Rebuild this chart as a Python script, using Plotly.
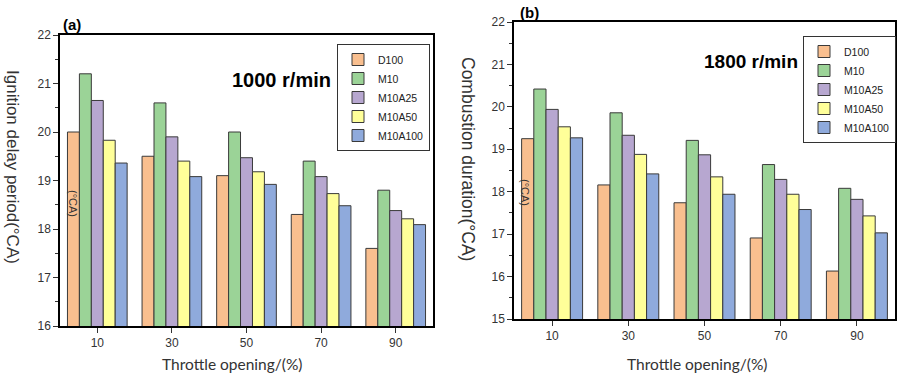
import plotly.graph_objects as go

categories = ["10", "30", "50", "70", "90"]
series_names = ["D100", "M10", "M10A25", "M10A50", "M10A100"]
colors = ["#F9BF8F", "#9BD397", "#B7A7D0", "#FFFF99", "#8FAADC"]

ignition_delay = {
    "D100":    [20.0, 19.5, 19.1, 18.3, 17.6],
    "M10":     [21.2, 20.6, 20.0, 19.4, 18.8],
    "M10A25":  [20.65, 19.9, 19.47, 19.08, 18.38],
    "M10A50":  [19.83, 19.4, 19.18, 18.73, 18.21],
    "M10A100": [19.36, 19.08, 18.92, 18.48, 18.09],
}
combustion_duration = {
    "D100":    [19.25, 18.16, 17.74, 16.91, 16.13],
    "M10":     [20.42, 19.86, 19.21, 18.64, 18.08],
    "M10A25":  [19.94, 19.33, 18.87, 18.29, 17.82],
    "M10A50":  [19.53, 18.88, 18.35, 17.94, 17.43],
    "M10A100": [19.27, 18.42, 17.94, 17.58, 17.03],
}

W, H = 897, 377
def fx(px): return px / W
def fy(py): return 1 - py / H

fig = go.Figure()
for name, col in zip(series_names, colors):
    fig.add_trace(go.Bar(x=categories, y=ignition_delay[name], name=name,
                         marker=dict(color=col, line=dict(color="#3a3a3a", width=1)),
                         xaxis="x", yaxis="y", legend="legend"))
for name, col in zip(series_names, colors):
    fig.add_trace(go.Bar(x=categories, y=combustion_duration[name], name=name,
                         marker=dict(color=col, line=dict(color="#3a3a3a", width=1)),
                         xaxis="x2", yaxis="y2", legend="legend2"))

tickfont = dict(family="Liberation Sans, Arial", size=12, color="#333")
common_x = dict(type="category", range=[-0.5, 4.5], showline=True, linecolor="black",
                linewidth=1.5, mirror=True, ticks="outside", ticklen=5, tickcolor="#333",
                tickfont=tickfont, showgrid=False, zeroline=False, automargin=False)
common_y = dict(showline=True, linecolor="black", linewidth=1.5, mirror=True,
                ticks="outside", ticklen=5, tickcolor="#333", dtick=1,
                tickfont=tickfont, showgrid=False, zeroline=False, automargin=False,
                minor=dict(dtick=0.5, ticks="outside", ticklen=3, tickcolor="#333"))

leg_common = dict(bgcolor="white", bordercolor="#333", borderwidth=1,
                  font=dict(family="Liberation Sans, Arial", size=10.5, color="#222"),
                  tracegroupgap=0, itemwidth=30, xanchor="right", yanchor="top")

fig.update_layout(
    width=W, height=H, margin=dict(l=0, r=0, t=0, b=0, autoexpand=False),
    paper_bgcolor="white", plot_bgcolor="white",
    barmode="group", bargap=0.2, bargroupgap=0,
    xaxis=dict(domain=[fx(60), fx(433)], anchor="y", **common_x),
    yaxis=dict(domain=[fy(326), fy(35)], anchor="x", range=[16, 22], **common_y),
    xaxis2=dict(domain=[fx(514), fx(895)], anchor="y2", **common_x),
    yaxis2=dict(domain=[fy(319), fy(22)], anchor="x2", range=[15, 22], **common_y),
    xaxis3=dict(domain=[fx(60), fx(433)], anchor="y", overlaying="x", range=[-0.5, 4.5],
                tickvals=[-0.5, 0.5, 1.5, 2.5, 3.5, 4.5], showticklabels=False,
                ticks="outside", ticklen=4, tickcolor="#333", showgrid=False,
                zeroline=False, showline=False),
    xaxis4=dict(domain=[fx(514), fx(895)], anchor="y2", overlaying="x2", range=[-0.5, 4.5],
                tickvals=[-0.5, 0.5, 1.5, 2.5, 3.5, 4.5], showticklabels=False,
                ticks="outside", ticklen=4, tickcolor="#333", showgrid=False,
                zeroline=False, showline=False),
    legend=dict(x=fx(430), y=fy(44), **leg_common),
    legend2=dict(x=fx(896), y=fy(36), **leg_common),
    showlegend=True,
)

ann = [
    dict(text="<b>(a)</b>", x=fx(72), y=fy(25), font=dict(family="Liberation Sans, Arial", size=15, color="black")),
    dict(text="<b>(b)</b>", x=fx(529), y=fy(13), font=dict(family="Liberation Sans, Arial", size=15, color="black")),
    dict(text="<b>1000 r/min</b>", x=fx(281), y=fy(80), font=dict(family="Liberation Sans, Arial", size=20, color="black")),
    dict(text="<b>1800 r/min</b>", x=fx(751), y=fy(62), font=dict(family="Liberation Sans, Arial", size=19, color="black")),
    dict(text="Throttle opening/(%)", x=fx(233), y=fy(364), font=dict(family="Lato, Open Sans", size=15.5, color="#333")),
    dict(text="Throttle opening/(%)", x=fx(697), y=fy(364), font=dict(family="Lato, Open Sans", size=15.5, color="#333")),
    dict(text="Ignition delay period(°CA)", x=fx(13), y=fy(167), textangle=90, font=dict(family="Liberation Sans, Arial", size=17, color="#333")),
    dict(text="Combustion duration(°CA)", x=fx(468), y=fy(159), textangle=90, font=dict(family="Liberation Sans, Arial", size=17.5, color="#333")),
    dict(text="(°CA)", x=fx(73), y=fy(203), textangle=90, font=dict(family="Liberation Sans, Arial", size=11, color="#333")),
    dict(text="(°CA)", x=fx(525), y=fy(192), textangle=90, font=dict(family="Liberation Sans, Arial", size=11, color="#333")),
]
for a in ann:
    a.update(xref="paper", yref="paper", showarrow=False, xanchor="center", yanchor="middle")
fig.update_layout(annotations=ann)

fig.write_html("out.html", config={"displayModeBar": False},
               post_script="document.body.style.margin='0';document.body.style.overflow='hidden';")
